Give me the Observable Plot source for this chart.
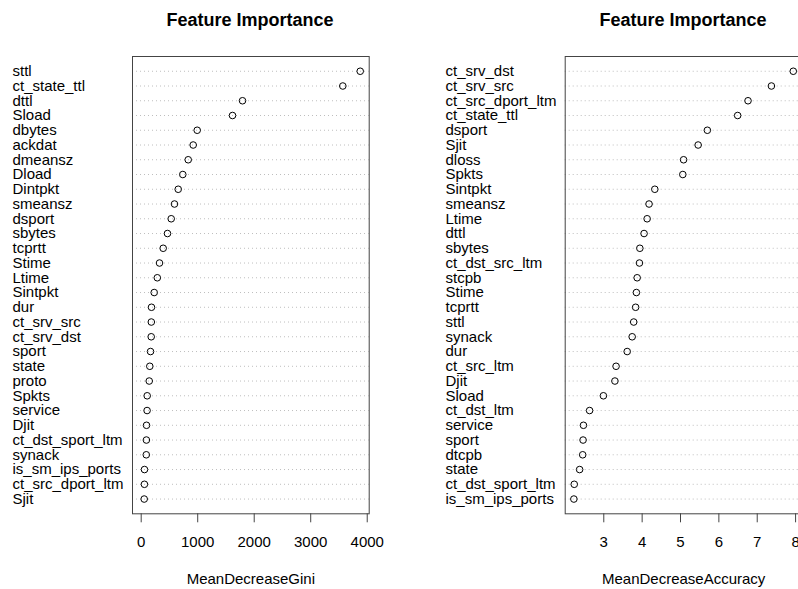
<!DOCTYPE html>
<html>
<head>
<meta charset="utf-8">
<script src="https://cdn.jsdelivr.net/npm/d3@7"></script>
<script src="https://cdn.jsdelivr.net/npm/@observablehq/plot@0.6"></script>
<style>
  html, body { margin: 0; padding: 0; background: #fff; }
  #wrap { position: relative; width: 798px; height: 589px; overflow: hidden; font-family: "Liberation Sans", Arial, Helvetica, sans-serif; }
  .panel { position: absolute; top: 0; }
  .panel svg { max-width: none !important; }
  .title { position: absolute; top: 0; font-size: 18px; font-weight: bold; line-height: 18px; text-align: center; color: #000; white-space: nowrap; }
</style>
</head>
<body>
<div id="wrap"></div>
<script>
// Left panel: MeanDecreaseGini (top to bottom)
const giniNames = ["sttl","ct_state_ttl","dttl","Sload","dbytes","ackdat","dmeansz","Dload","Dintpkt","smeansz","dsport","sbytes","tcprtt","Stime","Ltime","Sintpkt","dur","ct_srv_src","ct_srv_dst","sport","state","proto","Spkts","service","Djit","ct_dst_sport_ltm","synack","is_sm_ips_ports","ct_src_dport_ltm","Sjit"];
const giniValues = [3876,3568,1793,1616,991,920,832,736,655,589,531,465,389,324,285,230,182,179,177,165,152,142,106,104,94,92,90,58,57,53];
const giniTicks = [0,1000,2000,3000,4000];

// Right panel: MeanDecreaseAccuracy (top to bottom)
const accNames = ["ct_srv_dst","ct_srv_src","ct_src_dport_ltm","ct_state_ttl","dsport","Sjit","dloss","Spkts","Sintpkt","smeansz","Ltime","dttl","sbytes","ct_dst_src_ltm","stcpb","Stime","tcprtt","sttl","synack","dur","ct_src_ltm","Djit","Sload","ct_dst_ltm","service","sport","dtcpb","state","ct_dst_sport_ltm","is_sm_ips_ports"];
const accValues = [7.94,7.37,6.76,6.49,5.70,5.46,5.08,5.06,4.33,4.18,4.13,4.05,3.94,3.93,3.87,3.85,3.83,3.78,3.74,3.61,3.32,3.29,2.99,2.63,2.47,2.46,2.45,2.37,2.23,2.22];
const accTicks = [3,4,5,6,7,8];

const titleText = "Feature Importance";
const giniLabel = "MeanDecreaseGini";
const accLabel = "MeanDecreaseAccuracy";

const wrap = document.getElementById("wrap");

function panel({names, values, ticks, label, left, width, marginLeft, marginRight, domain, titleCenter, labelX}) {
  const data = names.map((n, i) => ({name: n, value: values[i]}));
  const chart = Plot.plot({
    width,
    height: 589,
    marginTop: 56,
    marginBottom: 75.7,
    marginLeft,
    marginRight,
    style: {fontFamily: '"Liberation Sans", Arial, Helvetica, sans-serif', fontSize: "15px", color: "#000", background: "transparent", maxWidth: "none"},
    x: {domain, ticks},
    y: {type: "point", domain: names, padding: 1, round: false, label: null},
    marks: [
      Plot.ruleY(names, {stroke: "#bebebe", strokeWidth: 1, strokeDasharray: "1,3"}),
      Plot.frame({stroke: "#444", strokeWidth: 1}),
      Plot.axisY({label: null, tickSize: 0, tickPadding: 0, textAnchor: "start", dx: -(marginLeft - labelX), fill: "#000", fontSize: 15}),
      Plot.axisX({ticks, tickFormat: d3.format("d"), tickSize: 9, tickPadding: 14, stroke: "#444", fill: "#000", fontSize: 15, label, labelAnchor: "center", labelOffset: 70, labelArrow: "none"}),
      Plot.dot(data, {x: "value", y: "name", r: 3.3, stroke: "#000", strokeWidth: 1, fill: "none"})
    ]
  });
  const div = document.createElement("div");
  div.className = "panel";
  div.style.left = left + "px";
  div.style.width = width + "px";
  div.style.height = "589px";
  div.appendChild(chart);
  wrap.appendChild(div);

  const t = document.createElement("div");
  t.className = "title";
  t.textContent = titleText;
  t.style.top = "11px";
  t.style.left = (titleCenter - 150) + "px";
  t.style.width = "300px";
  wrap.appendChild(t);
}

// left: box 132..368.7 ; 0 -> 140.7, 4000 -> 366.7
panel({names: giniNames, values: giniValues, ticks: giniTicks, label: giniLabel,
  left: 0, width: 399, marginLeft: 132, marginRight: 30.3,
  domain: [-154, 4035], titleCenter: 250, labelX: 12});

// right: box 564.7..801.6 (global); 3 -> 603.3, 8 -> 795.1
panel({names: accNames, values: accValues, ticks: accTicks, label: accLabel,
  left: 399, width: 404, marginLeft: 165.7, marginRight: 1.4,
  domain: [1.994, 8.17], titleCenter: 683, labelX: 46});
</script>
</body>
</html>
